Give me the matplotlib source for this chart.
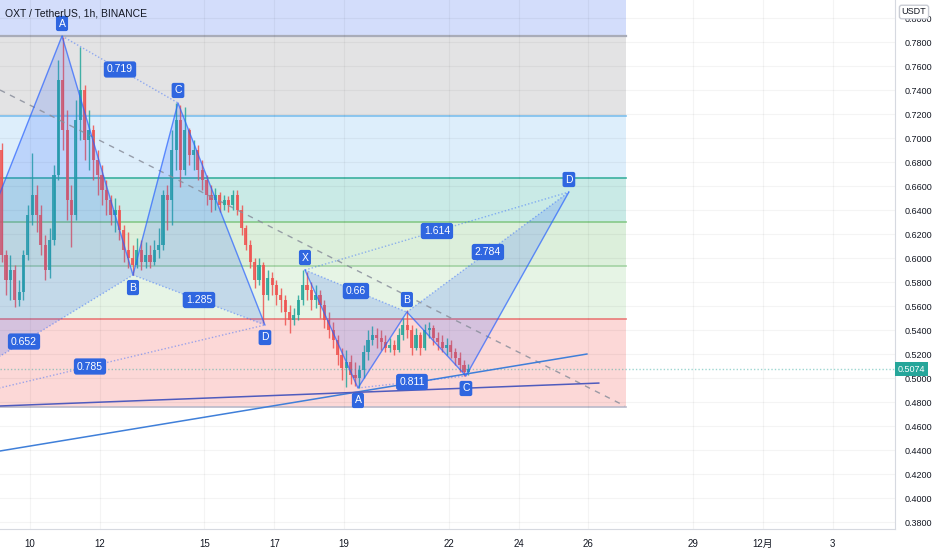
import numpy as np
import matplotlib.pyplot as plt

plt.rcParams['font.family'] = ['Liberation Sans', 'Noto Sans CJK SC', 'DejaVu Sans']

start_day = 9.1875
step = 0.125
first_open = 0.69
closes = [0.6025, 0.5817, 0.59, 0.565, 0.5717, 0.6025, 0.6358, 0.6525, 0.6358, 0.6108,
          0.59, 0.615, 0.6692, 0.7483, 0.7067, 0.6483, 0.6358, 0.715, 0.74, 0.6983,
          0.7067, 0.6817, 0.6692, 0.6567, 0.6483, 0.6358, 0.64, 0.6233, 0.6067, 0.60,
          0.5942, 0.6067, 0.5967, 0.6025, 0.5967, 0.6067, 0.6108, 0.6525, 0.6483, 0.69,
          0.715, 0.6733, 0.7067, 0.6858, 0.69, 0.6733, 0.665, 0.6525, 0.6483, 0.6525,
          0.6442, 0.6483, 0.6442, 0.6525, 0.64, 0.625, 0.6108, 0.5967, 0.5817, 0.5942,
          0.5692, 0.5833, 0.5775, 0.5692, 0.565, 0.555, 0.5483, 0.5525, 0.565, 0.5775,
          0.5733, 0.565, 0.5692, 0.5608, 0.5483, 0.54, 0.5317, 0.5192, 0.5083, 0.5133,
          0.5025, 0.50, 0.5067, 0.5217, 0.5317, 0.5358, 0.5333, 0.53, 0.525, 0.5275,
          0.5233, 0.5358, 0.5442, 0.54, 0.525, 0.5358, 0.525, 0.54, 0.5417, 0.5333,
          0.53, 0.525, 0.5275, 0.5217, 0.5167, 0.5108, 0.505, 0.5074]
highs = [0.6958, 0.6067, 0.6025, 0.5942, 0.5817, 0.6067, 0.6442, 0.6875, 0.6608, 0.6442,
         0.6192, 0.625, 0.6775, 0.765, 0.7842, 0.7233, 0.6608, 0.7317, 0.7758, 0.7442,
         0.7233, 0.7108, 0.69, 0.6775, 0.665, 0.6525, 0.65, 0.6442, 0.6275, 0.6217,
         0.6108, 0.6167, 0.615, 0.6133, 0.6108, 0.615, 0.625, 0.6567, 0.6608, 0.7067,
         0.7292, 0.7275, 0.7258, 0.7083, 0.6983, 0.6942, 0.6817, 0.6692, 0.6608, 0.6583,
         0.655, 0.6525, 0.6517, 0.6567, 0.6567, 0.6442, 0.6275, 0.615, 0.60, 0.60,
         0.5967, 0.59, 0.5883, 0.5817, 0.575, 0.5692, 0.5608, 0.5583, 0.5692, 0.59,
         0.5883, 0.58, 0.5775, 0.5733, 0.565, 0.555, 0.5467, 0.5358, 0.525, 0.5233,
         0.5192, 0.5133, 0.5108, 0.5275, 0.54, 0.5433, 0.5417, 0.54, 0.5358, 0.5333,
         0.5317, 0.5417, 0.55, 0.5567, 0.5442, 0.5417, 0.5383, 0.545, 0.5467, 0.5442,
         0.5383, 0.5358, 0.5333, 0.5317, 0.525, 0.5217, 0.515, 0.5117]
lows = [0.5967, 0.5692, 0.565, 0.5592, 0.56, 0.565, 0.5983, 0.6275, 0.6217, 0.6025,
        0.5817, 0.5833, 0.6108, 0.665, 0.69, 0.6317, 0.6092, 0.6317, 0.6983, 0.6817,
        0.6733, 0.665, 0.6525, 0.6442, 0.6358, 0.6275, 0.6217, 0.615, 0.5967, 0.5917,
        0.5858, 0.5917, 0.59, 0.5917, 0.5917, 0.5942, 0.60, 0.6067, 0.6233, 0.6275,
        0.6733, 0.6592, 0.6692, 0.6775, 0.6733, 0.665, 0.6567, 0.6442, 0.6383, 0.64,
        0.6383, 0.64, 0.6383, 0.64, 0.6358, 0.6192, 0.6067, 0.5917, 0.575, 0.5775,
        0.5458, 0.565, 0.5692, 0.5608, 0.555, 0.5442, 0.5375, 0.5442, 0.5483, 0.5608,
        0.565, 0.5567, 0.5583, 0.55, 0.5417, 0.5333, 0.525, 0.5108, 0.4983, 0.4925,
        0.495, 0.4933, 0.4917, 0.50, 0.515, 0.5275, 0.525, 0.5233, 0.5217, 0.5217,
        0.5192, 0.5217, 0.5317, 0.5333, 0.5192, 0.5233, 0.5192, 0.5233, 0.5333, 0.5275,
        0.5233, 0.5217, 0.5192, 0.5167, 0.5108, 0.505, 0.5017, 0.5025]
last_price = 0.5074

x_ticks = [10, 12, 15, 17, 19, 22, 24, 26, 29, 31, 33]
x_labels = ['10', '12', '15', '17', '19', '22', '24', '26', '29', '12月', '3']
price_ticks = np.arange(0.38, 0.8001, 0.02)

# fib zones
fib_levels = [0.83, 0.785, 0.7181, 0.6664, 0.6303, 0.5936, 0.5489, 0.4761]
fib_end = 27.08
fib_fill = ['#d3ddfb', '#e3e3e4', '#ddeefb', '#c9eae6', '#dcefdb', '#e6f4e5', '#fcd8d7']
fib_line = ['#a9acb8', '#7cc0ee', '#3bb09f', '#86c989', '#a3d3a3', '#e97a78', '#b9b9c9']

# harmonic patterns: X, A, B, C, D
p1_days = [6.705, 10.917, 12.951, 14.241, 16.733]
p1_prices = [0.475, 0.785, 0.5858, 0.7292, 0.5442]
p1_ratios = ['0.652', '0.719', '1.285', '0.785']
p2_days = [17.88, 19.398, 20.802, 22.493, 25.444]
p2_prices = [0.59, 0.4917, 0.555, 0.5017, 0.655]
p2_ratios = ['0.66', '0.811', '2.784', '1.614']
point_names = ['X', 'A', 'B', 'C', 'D']

# trend lines
dash_days, dash_prices = [9.14, 27.05], [0.74, 0.4767]
steep_days, steep_prices = [9.14, 25.96], [0.4392, 0.52]
flat_days, flat_prices = [9.14, 26.30], [0.4767, 0.4958]

blue = '#2962ff'
label_blue = '#2f66e0'

fig = plt.figure(figsize=(9.32, 5.5), dpi=100)
ax = fig.add_axes([0, 21 / 550, 895 / 932, 529 / 550])
ax.set_xlim(9.14, 34.79)
ax.set_ylim(0.3742, 0.815)

# grid
for t in price_ticks:
    ax.axhline(t, color='#000000', alpha=0.045, lw=0.8, zorder=1.5)
for t in x_ticks:
    ax.axvline(t, color='#000000', alpha=0.045, lw=0.8, zorder=1.5)

# fib zones
for i in range(len(fib_fill)):
    ax.fill_between([ax.get_xlim()[0] - 1, fib_end], fib_levels[i + 1], fib_levels[i],
                    color=fib_fill[i], lw=0, zorder=1)
    ax.plot([ax.get_xlim()[0] - 1, fib_end], [fib_levels[i + 1]] * 2,
            color=fib_line[i], lw=1.6 if i == 0 else 1.2, zorder=1.2)

# candles
closes = np.array(closes)
opens = np.concatenate([[first_open], closes[:-1]])
highs = np.maximum(np.array(highs), np.maximum(opens, closes))
lows = np.minimum(np.array(lows), np.minimum(opens, closes))
days = start_day + step * np.arange(len(closes))
up = closes >= opens
cols = np.where(up, '#26a69a', '#ef5350')
ax.vlines(days, lows, highs, colors=cols, lw=1.0, alpha=0.85, zorder=2)
ax.bar(days, np.maximum(np.abs(closes - opens), 0.0008), bottom=np.minimum(opens, closes),
       width=step * 0.72, color=cols, alpha=0.85, zorder=2.5)

# current price line
ax.axhline(last_price, color='#26a69a', lw=1, ls=(0, (1, 1.5)), alpha=0.45, zorder=3)

# trend lines
ax.plot(dash_days, dash_prices, color='#8a8f9c', lw=1, ls=(0, (4, 4)), alpha=0.85, zorder=5)
ax.plot(steep_days, steep_prices, color='#3f7fd9', lw=1.1, zorder=5)
ax.plot(flat_days, flat_prices, color='#4f5bbd', lw=1.1, zorder=5)


def draw_pattern(pd, pp, ratios):
    ax.fill([pd[0], pd[1], pd[2]], [pp[0], pp[1], pp[2]], color=blue, alpha=0.18, lw=0, zorder=4)
    ax.fill([pd[2], pd[3], pd[4]], [pp[2], pp[3], pp[4]], color=blue, alpha=0.18, lw=0, zorder=4)
    ax.plot(pd, pp, color=blue, lw=1, alpha=0.7, zorder=5)
    pairs = [(0, 2), (1, 3), (2, 4), (0, 4)]
    for (a, b), r in zip(pairs, ratios):
        ax.plot([pd[a], pd[b]], [pp[a], pp[b]], color=blue, lw=1, alpha=0.45,
                ls=(0, (1, 1.5)), zorder=5)
        ax.text((pd[a] + pd[b]) / 2, (pp[a] + pp[b]) / 2, r, color='white', fontsize=7.5,
                ha='center', va='center', zorder=7,
                bbox=dict(boxstyle='round,pad=0.3,rounding_size=0.25', fc=label_blue, ec='none'))
    for i, name in enumerate(point_names):
        above = (i % 2 == 1) == (pp[1] > pp[0])
        ax.annotate(name, (pd[i], pp[i]), xytext=(0, 9 if above else -9),
                    textcoords='offset points', color='white', fontsize=7.5,
                    ha='center', va='center', zorder=7,
                    bbox=dict(boxstyle='round,pad=0.25,rounding_size=0.2', fc=label_blue, ec='none'))


draw_pattern(p1_days, p1_prices, p1_ratios)
draw_pattern(p2_days, p2_prices, p2_ratios)

# axes styling
ax.yaxis.tick_right()
ax.set_yticks(price_ticks)
ax.set_yticklabels(['{:.4f}'.format(t) for t in price_ticks])
ax.set_xticks(x_ticks)
ax.set_xticklabels(x_labels)
ax.tick_params(axis='y', length=0, pad=7, labelsize=6.5, labelcolor='#131722')
ax.tick_params(axis='x', length=0, pad=7, labelsize=7, labelcolor='#131722')
for s in ['top', 'left']:
    ax.spines[s].set_visible(False)
for s in ['right', 'bottom']:
    ax.spines[s].set_color('#d6d9e0')

ax.annotate('{:.4f}'.format(last_price), (1.0, last_price), xycoords=('axes fraction', 'data'),
            xytext=(2, 0), textcoords='offset points', ha='left', va='center',
            fontsize=6.5, color='white', zorder=10, annotation_clip=False,
            bbox=dict(boxstyle='square,pad=0.3', fc='#26a69a', ec='none'))

fig.text(5 / 932, 1 - 13 / 550, 'OXT / TetherUS, 1h, BINANCE', fontsize=7.5,
         color='#131722', ha='left', va='center')
fig.text(914 / 932, 1 - 12 / 550, 'USDT', fontsize=6.5, color='#131722', ha='center',
         va='center', bbox=dict(boxstyle='round,pad=0.25', fc='white', ec='#c9ccd4'))

fig.savefig('out.png', dpi=100)
